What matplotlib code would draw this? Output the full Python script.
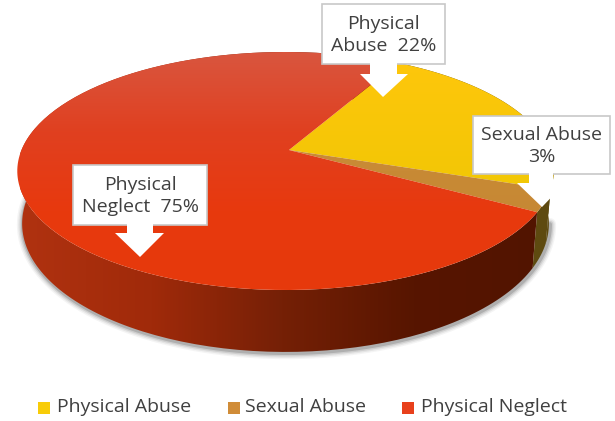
import numpy as np
import matplotlib
matplotlib.use('Agg')
import matplotlib.pyplot as plt
from matplotlib.colors import LinearSegmentedColormap
from matplotlib.patches import PathPatch, Polygon, Rectangle
from matplotlib.path import Path

# data
categories = ['Physical Abuse', 'Sexual Abuse', 'Physical Neglect']
values = [22, 3, 75]
callout_labels = ['Physical\nAbuse  22%', 'Sexual Abuse\n3%', 'Physical\nNeglect  75%']

plt.rcParams['font.family'] = ['Open Sans', 'DejaVu Sans']

# pie geometry in pixels of the 615x421 picture
CX, CY = 285.5, 150
APEX_X = 289
A, B, K = 264, 115.3, 0.1765
DEPTH = 51
SHRINK = 0.982  # lower rim is a little narrower than the top one
START = 29.5

top_cmaps = [
    LinearSegmentedColormap.from_list('y', ['#FFC60C', '#E8C800']),
    LinearSegmentedColormap.from_list('t', ['#CC8F38', '#C48532']),
    LinearSegmentedColormap.from_list('r', ['#D9563F', '#E04020', '#E8390E', '#E63A0C']),
]
wall_cmap = LinearSegmentedColormap.from_list(
    'w', ['#B03210', '#A02A0A', '#752006', '#571500', '#521400'])
side_color = ['#5E4A10', '#5E4A10', None]


def project(theta, r=1.0, drop=False):
    # theta in degrees clockwise from the far side of the disc
    t = np.radians(theta)
    u = r * np.sin(t)
    v = -r * np.cos(t)
    w = 1 - K * v
    x = CX + A * u / w
    y = CY + B * v / w
    if drop:
        x = CX + (x - CX) * SHRINK
        y = y + DEPTH / w
    return x, y


def gradient(ax, path, cmap, horizontal=False, extent=(0, 615, 0, 421), z=2):
    patch = PathPatch(path, fc='none', ec='none', zorder=z)
    ax.add_patch(patch)
    g = np.linspace(0, 1, 256)
    g = g.reshape(1, -1) if horizontal else g.reshape(-1, 1)
    im = ax.imshow(g, cmap=cmap, extent=(extent[0], extent[1], extent[3], extent[2]),
                   aspect='auto', origin='upper', zorder=z, interpolation='bilinear')
    im.set_clip_path(patch)


fig = plt.figure(figsize=(6.15, 4.21), dpi=100)
ax = fig.add_axes([0, 0, 1, 1])

# slice angles from the values
angles = START + 360 * np.cumsum([0] + values) / sum(values)

# soft shadow under the disc
th = np.linspace(100, 300, 300)
sx, sy = project(th, drop=True)
for lw, al in zip([9, 7, 5, 3], [0.05, 0.08, 0.12, 0.2]):
    ax.plot(sx + 1, sy + 1, color='#333333', lw=lw, alpha=al, zorder=1, solid_capstyle='round')

# walls
for i in range(len(values)):
    th = np.linspace(angles[i], angles[i + 1], 200)
    x1, y1 = project(th)
    x2, y2 = project(th, drop=True)
    verts = np.column_stack([np.r_[x1, x2[::-1]], np.r_[y1, y2[::-1]]])
    if side_color[i]:
        ax.add_patch(Polygon(verts, fc=side_color[i], ec='none', zorder=2))
    else:
        gradient(ax, Path(np.r_[verts, verts[:1]]), wall_cmap, horizontal=True,
                 extent=(20, 545, 0, 421), z=2)

# top faces
for i in range(len(values)):
    th = np.linspace(angles[i], angles[i + 1], 200)
    x1, y1 = project(th)
    verts = np.column_stack([np.r_[APEX_X, x1, APEX_X], np.r_[CY, y1, CY]])
    gradient(ax, Path(verts), top_cmaps[i], extent=(0, 615, 52, 290), z=3)

# callouts
boxes = [(322, 445, 4, 64), (473, 610, 116, 174), (73, 207, 165, 225)]
arrows = [(370, 397, 74, 360, 408, 383, 97),
          (529, 553, 183, 517, 565, 542, 207),
          (127, 153, 233, 115, 164, 140, 257)]
for box, arr, label in zip(boxes, arrows, callout_labels):
    x0, x1, y0, y1 = box
    s0, s1, hy, h0, h1, tx, ty = arr
    ax.add_patch(Rectangle((x0, y0), x1 - x0, y1 - y0, fc='white', ec='#C8C8C8', lw=1.2, zorder=5))
    ax.add_patch(Polygon([(s0, y1 - 1), (s1, y1 - 1), (s1, hy), (h1, hy),
                          (tx, ty), (h0, hy), (s0, hy)],
                         fc='white', ec='none', zorder=6))
    ax.text((x0 + x1) / 2, (y0 + y1) / 2 + 1, label, ha='center', va='center', fontsize=14,
            color='#404040', linespacing=1.35, zorder=7)

# legend
leg_x = [(38, 57), (228, 245), (402, 421)]
leg_col = ['#F8CC08', '#D08C38', '#E8401C']
for (mx, tx), c, name in zip(leg_x, leg_col, categories):
    ax.add_patch(Rectangle((mx, 402), 12, 12, fc=c, ec='none', zorder=3))
    ax.text(tx, 407, name, ha='left', va='center', fontsize=14, color='#404040')

ax.set_xlim(0, 615)
ax.set_ylim(421, 0)
ax.axis('off')
fig.savefig('out.png', dpi=100, facecolor='white')
